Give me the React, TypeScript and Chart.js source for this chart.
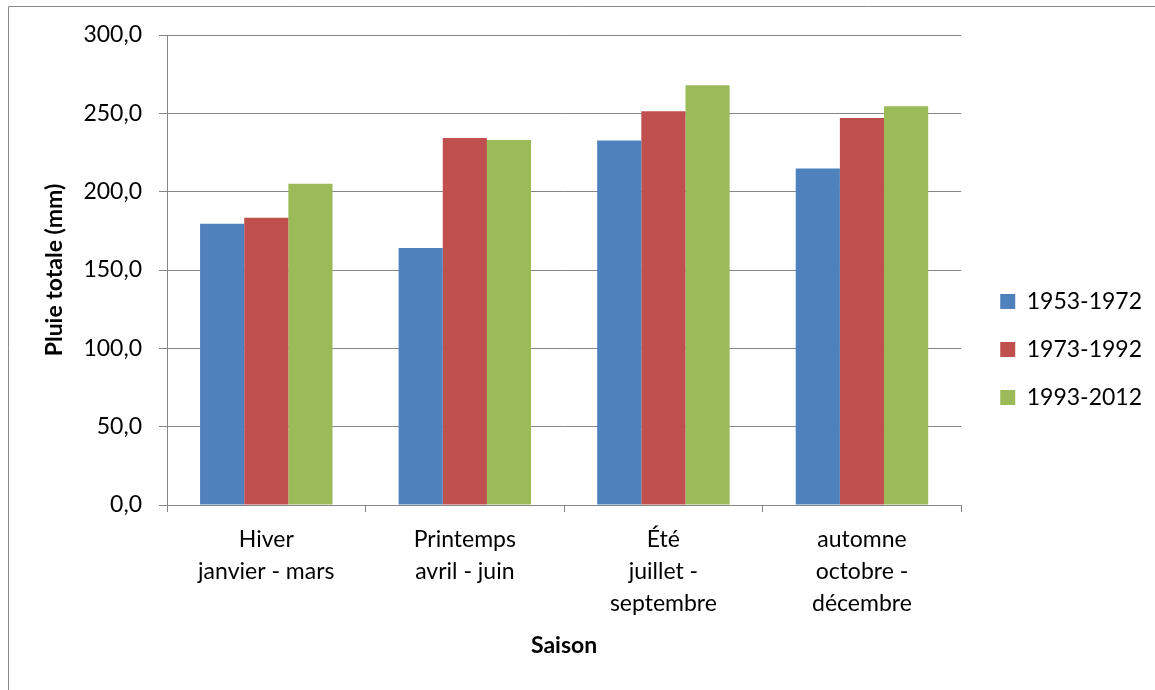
import React, { useEffect, useRef } from "react";
import { Chart, registerables } from "chart.js";

Chart.register(...registerables);

const categories: string[][] = [
  ["Hiver", "janvier - mars"],
  ["Printemps", "avril - juin"],
  ["Été", "juillet -", "septembre"],
  ["automne", "octobre -", "décembre"],
];
const seriesNames = ["1953-1972", "1973-1992", "1993-2012"];
const values1953 = [179.5, 164.0, 232.6, 214.8];
const values1973 = [183.4, 234.2, 251.3, 247.1];
const values1993 = [205.0, 232.9, 267.9, 254.6];
const seriesColors = ["#4F81BD", "#C0504D", "#9BBB59"];
const yMin = 0;
const yMax = 300;
const yStep = 50;
const yTitle = "Pluie totale (mm)";
const xTitle = "Saison";

const FONT = "Lato, 'Liberation Sans', sans-serif";
const GRID = "#868686";

const borderPlugin = {
  id: "outerBorder",
  afterDraw(chart: any) {
    const ctx = chart.ctx;
    ctx.save();
    ctx.strokeStyle = "#8a8a8a";
    ctx.lineWidth = 1;
    ctx.beginPath();
    ctx.moveTo(8.5, chart.height);
    ctx.lineTo(8.5, 6.5);
    ctx.lineTo(chart.width, 6.5);
    ctx.stroke();
    ctx.restore();
  },
};

export default function App() {
  const ref = useRef<HTMLCanvasElement | null>(null);
  useEffect(() => {
    if (!ref.current) return;
    const all = [values1953, values1973, values1993];
    const chart = new Chart(ref.current, {
      type: "bar",
      data: {
        labels: categories,
        datasets: all.map((v, i) => ({
          label: seriesNames[i],
          data: v,
          backgroundColor: seriesColors[i],
          borderWidth: 0,
          categoryPercentage: 0.667,
          barPercentage: 1,
        })),
      },
      options: {
        responsive: false,
        animation: false,
        layout: { padding: { left: 41, top: 35, right: 3, bottom: 26 } },
        plugins: {
          tooltip: { enabled: false },
          legend: {
            position: "right",
            labels: {
              boxWidth: 15,
              boxHeight: 15,
              padding: 25,
              color: "#000",
              font: { family: FONT, size: 23 },
            },
          },
        },
        scales: {
          x: {
            grid: {
              display: true,
              drawOnChartArea: false,
              drawTicks: true,
              tickLength: 7,
              color: GRID,
              offset: true,
            },
            border: { display: true, color: GRID, width: 1 },
            ticks: {
              color: "#000",
              padding: 12,
              maxRotation: 0,
              autoSkip: false,
              font: { family: FONT, size: 23, lineHeight: 32 / 23 },
            },
            title: {
              display: true,
              text: xTitle,
              color: "#000",
              padding: { top: 0, bottom: 5 },
              font: { family: FONT, size: 23, weight: "bold" },
            },
            afterFit: (s: any) => {
              s.height = 159;
            },
          },
          y: {
            min: yMin,
            max: yMax,
            grid: { color: GRID, tickLength: 8, drawTicks: true },
            border: { display: true, color: GRID, width: 1 },
            ticks: {
              stepSize: yStep,
              color: "#000",
              padding: 17,
              font: { family: FONT, size: 23 },
              callback: (v: any) => Number(v).toFixed(1).replace(".", ","),
            },
            title: {
              display: true,
              text: yTitle,
              color: "#000",
              padding: { top: 0, bottom: 0 },
              font: { family: FONT, size: 23, weight: "bold" },
            },
            afterFit: (s: any) => {
              s.width = 126;
            },
          },
          gap: {
            type: "linear",
            position: "right",
            display: true,
            grid: { display: false, drawTicks: false },
            border: { display: false },
            ticks: { display: false },
            afterFit: (s: any) => {
              s.width = 14;
            },
          },
        },
      },
      plugins: [borderPlugin],
    } as any);
    return () => chart.destroy();
  }, []);
  return (
    <div style={{ position: "absolute", left: 0, top: 0, width: 1155, height: 690, background: "#fff" }}>
      <canvas ref={ref} width={1155} height={690} style={{ display: "block" }} />
    </div>
  );
}
